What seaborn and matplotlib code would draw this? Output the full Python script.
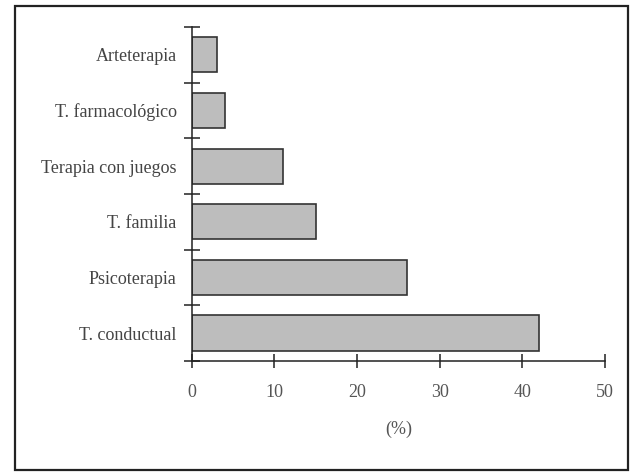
import matplotlib
matplotlib.use('Agg')
import matplotlib.pyplot as plt
from matplotlib.patches import Rectangle
import seaborn as sns
import pandas as pd

# datos
categorias = ['Arteterapia', 'T. farmacológico', 'Terapia con juegos',
              'T. familia', 'Psicoterapia', 'T. conductual']
porcentajes = [3, 4, 11, 15, 26, 42]
xticks = [0, 10, 20, 30, 40, 50]

sns.set_style('white')
plt.rcParams['font.family'] = ['Liberation Serif', 'DejaVu Serif']

df = pd.DataFrame({'cat': categorias, 'pct': porcentajes})

fig = plt.figure(figsize=(6.31, 4.76), dpi=100)
ax = fig.add_axes([0.304, 0.242, 0.655, 0.701])

sns.barplot(data=df, x='pct', y='cat', orient='h', color='#bdbdbd',
            edgecolor='#333333', linewidth=1.2, width=0.63, saturation=1, ax=ax)

ax.set_xlim(0, 50)
ax.set_ylim(5.5, -0.5)
for s in ['top', 'right']:
    ax.spines[s].set_visible(False)
ax.spines['left'].set_linewidth(1.1)
ax.spines['bottom'].set_linewidth(1.1)
ax.spines['left'].set_color('#222222')
ax.spines['bottom'].set_color('#222222')

ax.set_xticks(xticks)
ax.set_xticklabels([str(t) for t in xticks], fontsize=13, color='#555555')
ax.tick_params(axis='x', bottom=True, direction='inout', length=10, width=1.1,
               pad=12, color='#222222')
ax.set_yticks(range(len(categorias)))
ax.set_yticklabels(categorias, fontsize=13, color='#444444')
ax.tick_params(axis='y', which='major', left=True, length=0, pad=11)
ax.set_yticks([i - 0.5 for i in range(len(categorias) + 1)], minor=True)
ax.tick_params(axis='y', which='minor', left=True, direction='inout', length=12,
               width=1.1, color='#222222')

ax.set_xlabel('(%)', fontsize=13, color='#555555', labelpad=14)
ax.set_ylabel('')

fig.patches.append(Rectangle((0.024, 0.013), 0.971, 0.975, transform=fig.transFigure,
                             fill=False, edgecolor='#222222', linewidth=1.6))

fig.savefig('out.png', dpi=100)
